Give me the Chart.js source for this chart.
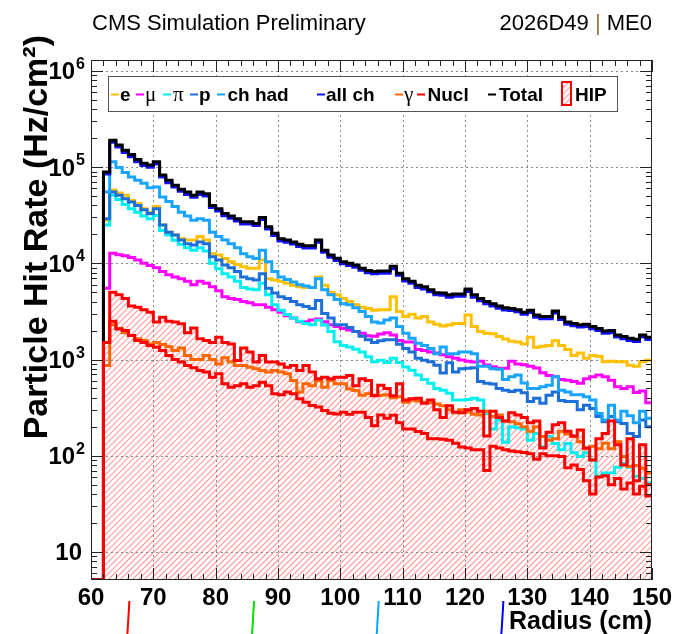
<!DOCTYPE html>
<html>
<head>
<meta charset="utf-8">
<script src="https://cdn.jsdelivr.net/npm/chart.js@4.4.0/dist/chart.umd.min.js"></script>
<style>
  html, body { margin: 0; padding: 0; background: #fff; }
  #wrap { width: 675px; height: 634px; }
</style>
</head>
<body>
<div id="wrap"><canvas id="hitRate" width="675" height="634"></canvas></div>
<script>
// bin left edges (cm), 1 cm bins
const binEdges = [60, 61, 62, 63, 64, 65, 66, 67, 68, 69, 70, 71, 72, 73, 74, 75, 76, 77, 78, 79,
  80, 81, 82, 83, 84, 85, 86, 87, 88, 89, 90, 91, 92, 93, 94, 95, 96, 97, 98, 99,
  100, 101, 102, 103, 104, 105, 106, 107, 108, 109, 110, 111, 112, 113, 114, 115, 116, 117, 118, 119,
  120, 121, 122, 123, 124, 125, 126, 127, 128, 129, 130, 131, 132, 133, 134, 135, 136, 137, 138, 139,
  140, 141, 142, 143, 144, 145, 146, 147, 148, 149];

const xTicks = [60, 70, 80, 90, 100, 110, 120, 130, 140, 150];
const yTicks = [10, 100, 1000, 10000, 100000, 1000000];
const yTickExp = ['', '2', '3', '4', '5', '6'];
const etaMarks = [66, 86, 106, 126];
const etaColors = ['#ff0000', '#00e000', '#00a8ff', '#0000ff'];

// hit rates (Hz/cm2) per bin
const rateE = [0, 0, 28000, 58000, 54000, 51000, 45000, 42000, 37000, 34000, 39000, 25000,
  21000, 19700, 18000, 17500, 17500, 19000, 17500, 12600, 12200, 11200,
  10400, 9700, 9200, 8900, 8900, 10800, 6900, 6700, 6500, 6200,
  5900, 5700, 5600, 5600, 7200, 5900, 5000, 4700, 4300, 4000,
  3700, 3500, 3400, 3250, 3300, 3300, 4500, 3150, 2800, 2950,
  2700, 2800, 2450, 2330, 2230, 2280, 2370, 2370, 2900, 2200,
  1950, 1870, 1850, 1730, 1630, 1550, 1520, 1450, 1700, 1340,
  1370, 1400, 1570, 1400, 1270, 1100, 1170, 1030, 1100, 1080,
  950, 960, 950, 950, 870, 850, 950, 980];
const rateMu = [0, 0, 5500, 12700, 12300, 12000, 11500, 10800, 10000, 9500, 9000, 8200,
  7600, 7200, 6900, 6500, 6000, 6500, 6200, 5700, 5200, 4500,
  4300, 4200, 4000, 3900, 3700, 3700, 3500, 3300, 3100, 2850,
  2700, 2470, 2470, 2570, 2630, 2470, 2300, 2200, 2100, 2030,
  1960, 1870, 1770, 1740, 1840, 1900, 1800, 1580, 1520, 1520,
  1270, 1240, 1200, 1170, 1120, 1070, 1030, 990, 960, 940,
  960, 875, 840, 810, 810, 960, 900, 880, 850, 815,
  730, 680, 660, 620, 610, 590, 565, 630, 660, 690,
  660, 610, 520, 500, 520, 455, 470, 355];
const ratePi = [0, 0, 25000, 51000, 46000, 41000, 37000, 34000, 31000, 29000, 31500, 22000,
  19700, 17400, 15800, 14500, 13700, 14500, 13400, 10000, 8800, 7800,
  7200, 6500, 5600, 5400, 5300, 6200, 4700, 3700, 3250, 2930,
  2700, 2500, 2370, 2300, 2560, 2280, 1950, 1530, 1400, 1350,
  1280, 1200, 1070, 950, 980, 930, 1030, 930, 835, 775,
  690, 620, 565, 500, 480, 445, 380, 380, 385, 395,
  380, 275, 190, 235, 138, 200, 195, 190, 145, 170,
  124, 158, 134, 115, 134, 107, 98, 107, 91, 61,
  66, 66, 76, 83, 76, 61, 58, 52];
const rateP = [0, 0, 29000, 55000, 51000, 47000, 43500, 40000, 36000, 33000, 37000, 25000,
  21000, 19700, 17500, 16000, 15500, 16700, 16000, 11700, 10800, 9600,
  9000, 8200, 7200, 6900, 6700, 7800, 5500, 4900, 4500, 4300,
  4000, 3700, 3550, 3400, 4100, 3000, 2700, 2300, 2300, 2150,
  1960, 1740, 1600, 1500, 1570, 1600, 1600, 1440, 1300, 1200,
  1030, 985, 950, 870, 725, 925, 740, 800, 810, 820,
  590, 565, 555, 500, 480, 465, 480, 450, 365, 395,
  350, 425, 460, 375, 365, 365, 300, 335, 310, 255,
  225, 255, 225, 216, 170, 158, 235, 200];
const rateChHad = [0, 0, 55000, 114000, 99000, 88000, 79000, 73000, 68000, 61000, 62000, 49000,
  44000, 39000, 34000, 31000, 28000, 29000, 28000, 21000, 19000, 17500,
  16000, 14500, 12600, 11700, 11200, 13700, 10400, 8200, 7200, 6800,
  6400, 6000, 5800, 5600, 6900, 5300, 4700, 4200, 3800, 3700,
  3450, 3150, 2800, 2450, 2400, 2570, 2700, 2200, 1870, 1660,
  1480, 1400, 1300, 1150, 1350, 1150, 1150, 1200, 1200, 1150,
  850, 850, 800, 790, 620, 660, 690, 570, 500, 500,
  520, 540, 660, 480, 460, 430, 430, 410, 380, 275,
  235, 335, 235, 290, 260, 220, 290, 245];
const rateAllCh = [0, 0, 85000, 181000, 162000, 142000, 128000, 114000, 104000, 99500, 108000, 79000,
  69000, 62000, 56000, 52000, 48500, 52000, 50000, 38000, 35000, 31300,
  29400, 27500, 25600, 25600, 24700, 28500, 22800, 19500, 17100, 16600,
  15900, 15000, 14400, 14400, 16600, 13000, 11600, 10700, 9900, 9500,
  9100, 8450, 8000, 7800, 7900, 7900, 8800, 7500, 6550, 6200,
  5600, 5400, 5050, 4700, 4650, 4450, 4550, 4550, 5100, 4450,
  4080, 3800, 3600, 3420, 3280, 3230, 3130, 2950, 3080, 2750,
  2660, 2660, 3040, 2600, 2330, 2250, 2180, 2210, 2090, 2000,
  1880, 1900, 1710, 1640, 1580, 1540, 1710, 1610];
const rateGamma = [0, 0, 865, 2300, 2100, 1900, 1780, 1640, 1580, 1450, 1500, 1430,
  1360, 1240, 1320, 1100, 1000, 1000, 1100, 1000, 900, 1040,
  940, 865, 865, 830, 800, 770, 740, 770, 740, 710,
  605, 460, 560, 535, 605, 515, 605, 560, 560, 495,
  475, 425, 440, 425, 425, 430, 400, 410, 360, 380,
  370, 360, 355, 345, 330, 300, 280, 300, 285, 270,
  265, 290, 255, 265, 230, 225, 215, 200, 180, 200,
  158, 145, 150, 180, 168, 158, 140, 118, 125, 118,
  135, 118, 140, 98, 77, 79, 74, 66];
const rateNucl = [0, 0, 1500, 2500, 2080, 2000, 1780, 1580, 1500, 1400, 1340, 1240,
  1100, 1000, 940, 865, 820, 770, 740, 655, 710, 560,
  515, 535, 560, 515, 535, 580, 535, 440, 430, 460,
  440, 390, 360, 333, 320, 295, 277, 272, 283, 270,
  283, 283, 250, 205, 265, 245, 263, 220, 190, 190,
  178, 170, 150, 150, 148, 145, 135, 123, 120, 115,
  115, 70, 125, 120, 115, 112, 110, 108, 105, 92,
  105, 100, 100, 98, 75, 80, 72, 55, 40, 60,
  62, 50, 58, 45, 52, 40, 48, 38];
const rateTotal = [0, 0, 89000, 190000, 170000, 150000, 135000, 120000, 110000, 105000, 114000, 83000,
  73000, 65000, 59000, 55000, 51000, 55000, 53000, 40000, 37000, 33000,
  31000, 29000, 27000, 27000, 26000, 30000, 24000, 20500, 18000, 17500,
  16700, 15800, 15200, 15200, 17500, 13700, 12200, 11300, 10400, 10000,
  9600, 8900, 8400, 8200, 8300, 8300, 9300, 7900, 6900, 6500,
  5900, 5700, 5300, 4950, 4900, 4700, 4800, 4800, 5400, 4700,
  4300, 4000, 3800, 3600, 3450, 3400, 3300, 3100, 3250, 2900,
  2800, 2800, 3200, 2750, 2450, 2370, 2300, 2330, 2200, 2100,
  1980, 2000, 1800, 1730, 1660, 1620, 1800, 1700];
const rateHIP = [0, 0, 1500, 5000, 4700, 4300, 3600, 3500, 3300, 3100, 2450, 2750,
  2500, 2450, 2350, 1900, 2130, 1640, 1580, 1500, 1700, 1500,
  1450, 975, 1320, 1200, 940, 1100, 940, 940, 900, 830,
  865, 770, 865, 740, 630, 655, 630, 655, 655, 680,
  535, 630, 605, 420, 540, 500, 420, 560, 380, 390,
  395, 350, 380, 300, 250, 330, 285, 280, 300, 310,
  290, 160, 290, 250, 230, 280, 265, 250, 220, 230,
  120, 175, 210, 220, 180, 160, 185, 120, 90, 150,
  170, 230, 130, 80, 150, 55, 130, 50];

const seriesNames = ['e', 'μ', 'π', 'p', 'ch had', 'all ch', 'γ', 'Nucl', 'Total', 'HIP'];
const seriesColors = ['#ffc000', '#ff00ff', '#00f0f0', '#1c6fd8', '#18a4ff', '#1010ff', '#ff6600', '#ff0000', '#000000', '#ff0000'];
const seriesValues = [rateE, rateMu, ratePi, rateP, rateChHad, rateAllCh, rateGamma, rateNucl, rateTotal, rateHIP];
const HIP_INDEX = 9;

const X_MIN = 60, X_MAX = 150;
const Y_MIN = 5.1, Y_MAX = 1.3e6;
const FONT = '"Liberation Sans", Arial, Helvetica, sans-serif';
const SERIF = '"Liberation Serif", "DejaVu Serif", serif';
const HATCH_COLOR = 'rgba(255,40,40,0.45)';

function histPoints(vals) {
  const pts = binEdges.map((x, i) => ({ x: x, y: vals[i] > 0 ? vals[i] : Y_MIN }));
  pts.push({ x: X_MAX, y: pts[pts.length - 1].y });
  return pts;
}

// ROOT style 3004 hatch inside the current clip
function hatchRect(ctx, left, top, right, bottom) {
  const h = bottom - top;
  ctx.save();
  ctx.strokeStyle = HATCH_COLOR;
  ctx.lineWidth = 1.2;
  ctx.beginPath();
  for (let k = Math.floor((left - h) / 6) * 6; k <= right; k += 6) {
    ctx.moveTo(k, bottom);
    ctx.lineTo(k + h, top);
  }
  ctx.stroke();
  ctx.restore();
}

const datasets = seriesNames.map((name, i) => ({
  label: name,
  data: histPoints(seriesValues[i]),
  borderColor: seriesColors[i],
  borderWidth: 3,
  stepped: true,
  pointRadius: 0,
  fill: false,
  order: seriesNames.length - i
}));

const rootStyle = {
  id: 'rootStyle',
  beforeDatasetsDraw(chart) {
    const { ctx, chartArea: a, scales: { x, y } } = chart;
    // hatched area under HIP
    const pts = chart.getDatasetMeta(HIP_INDEX).data;
    ctx.save();
    ctx.beginPath();
    ctx.rect(a.left, a.top, a.right - a.left, a.bottom - a.top);
    ctx.clip();
    ctx.beginPath();
    ctx.moveTo(pts[0].x, a.bottom);
    pts.forEach((p, i) => {
      if (i > 0) ctx.lineTo(p.x, pts[i - 1].y);
      ctx.lineTo(p.x, p.y);
    });
    ctx.lineTo(pts[pts.length - 1].x, a.bottom);
    ctx.closePath();
    ctx.clip();
    hatchRect(ctx, a.left, a.top, a.right, a.bottom);
    ctx.restore();

    // dotted grid
    ctx.save();
    ctx.strokeStyle = '#8a8a8a';
    ctx.lineWidth = 1;
    ctx.setLineDash([2, 3]);
    ctx.beginPath();
    xTicks.forEach(v => {
      if (v <= X_MIN || v >= X_MAX) return;
      const px = Math.round(x.getPixelForValue(v)) + 0.5;
      ctx.moveTo(px, a.top); ctx.lineTo(px, a.bottom);
    });
    yTicks.forEach(v => {
      const py = Math.round(y.getPixelForValue(v)) + 0.5;
      ctx.moveTo(a.left, py); ctx.lineTo(a.right, py);
    });
    ctx.stroke();
    ctx.restore();
  },
  afterDatasetsDraw(chart) {
    const { ctx, chartArea: a, scales: { x, y } } = chart;
    ctx.save();
    ctx.strokeStyle = '#222';
    ctx.lineWidth = 1;
    ctx.strokeRect(a.left + 0.5, a.top + 0.5, a.right - a.left - 1, a.bottom - a.top - 1);
    ctx.beginPath();
    // x ticks, bottom and top, pointing inward
    for (let v = X_MIN; v <= X_MAX; v += 2) {
      const len = v % 10 === 0 ? 12 : 6;
      const px = Math.round(x.getPixelForValue(v)) + 0.5;
      ctx.moveTo(px, a.bottom); ctx.lineTo(px, a.bottom - len);
      ctx.moveTo(px, a.top); ctx.lineTo(px, a.top + len);
    }
    // y log ticks, left and right
    for (let d = 1; d <= 1e6; d *= 10) {
      for (let m = 1; m <= 9; m++) {
        const v = m * d;
        if (v < Y_MIN || v > Y_MAX) continue;
        const len = m === 1 ? 12 : 6;
        const py = Math.round(y.getPixelForValue(v)) + 0.5;
        ctx.moveTo(a.left, py); ctx.lineTo(a.left + len, py);
        ctx.moveTo(a.right, py); ctx.lineTo(a.right - len, py);
      }
    }
    ctx.stroke();
    ctx.restore();
  },
  afterDraw(chart) {
    const { ctx, chartArea: a, scales: { x, y } } = chart;
    ctx.save();
    ctx.fillStyle = '#000';

    // header
    ctx.font = '22px ' + FONT;
    ctx.textAlign = 'left';
    ctx.textBaseline = 'alphabetic';
    ctx.fillText('CMS Simulation Preliminary', 92, 30);
    const parts = [['2026D49 ', '#000'], ['|', '#a07040'], [' ME0', '#000']];
    const wTot = parts.reduce((s, p) => s + ctx.measureText(p[0]).width, 0);
    let hx = a.right - wTot;
    parts.forEach(p => { ctx.fillStyle = p[1]; ctx.fillText(p[0], hx, 30); hx += ctx.measureText(p[0]).width; });
    ctx.fillStyle = '#000';

    // x tick labels
    ctx.font = 'bold 24px ' + FONT;
    ctx.textAlign = 'center';
    xTicks.forEach(v => ctx.fillText(String(v), x.getPixelForValue(v), 605));

    // y tick labels with exponents
    yTicks.forEach((v, i) => {
      const py = y.getPixelForValue(v);
      ctx.font = 'bold 16px ' + FONT;
      const ew = yTickExp[i] ? ctx.measureText(yTickExp[i]).width : 0;
      const right = yTickExp[i] ? 85 : 82;
      if (yTickExp[i]) {
        ctx.textAlign = 'right';
        ctx.fillText(yTickExp[i], right, py - 2);
      }
      ctx.font = 'bold 24px ' + FONT;
      ctx.textAlign = 'right';
      ctx.fillText('10', right - ew - (ew ? 1 : 0), py + 8.5);
    });

    // axis titles
    ctx.font = 'bold 25px ' + FONT;
    ctx.textAlign = 'right';
    ctx.fillText('Radius (cm)', a.right, 629);
    ctx.save();
    ctx.translate(47, 35);
    ctx.rotate(-Math.PI / 2);
    ctx.font = 'bold 34px ' + FONT;
    ctx.textAlign = 'right';
    ctx.fillText('Particle Hit Rate (Hz/cm²)', 0, 0);
    ctx.restore();

    // eta boundary marks below the axis
    ctx.lineWidth = 2;
    etaMarks.forEach((v, i) => {
      const px = x.getPixelForValue(v);
      ctx.strokeStyle = etaColors[i];
      ctx.beginPath();
      ctx.moveTo(px + 1, 601); ctx.lineTo(px - 1, 634);
      ctx.stroke();
    });

    // legend
    ctx.fillStyle = '#fff';
    ctx.fillRect(108, 76, 510, 36);
    ctx.strokeStyle = '#555';
    ctx.lineWidth = 1;
    ctx.strokeRect(108.5, 76.5, 509, 35);
    const keys = [[111, 120, false], [136, 145, true], [163, 173, true], [190, 199, false], [217, 227.5, false],
      [317, 326, false], [395, 404, true], [417, 427.5, false], [488, 499, false]];
    keys.forEach((k, i) => {
      ctx.fillStyle = seriesColors[i];
      ctx.fillRect(k[0], 93.5, 8, 2);
      ctx.fillStyle = '#000';
      ctx.font = k[2] ? '21px ' + SERIF : 'bold 19px ' + FONT;
      ctx.textAlign = 'left';
      ctx.fillText(seriesNames[i], k[1], 101);
    });
    ctx.save();
    ctx.beginPath();
    ctx.rect(562, 82, 9, 23);
    ctx.clip();
    hatchRect(ctx, 562, 82, 571, 105);
    ctx.restore();
    ctx.strokeStyle = seriesColors[HIP_INDEX];
    ctx.lineWidth = 2;
    ctx.strokeRect(562, 82, 9, 23);
    ctx.fillStyle = '#000';
    ctx.font = 'bold 19px ' + FONT;
    ctx.textAlign = 'left';
    ctx.fillText(seriesNames[HIP_INDEX], 575, 101);
    ctx.restore();
  }
};

new Chart(document.getElementById('hitRate'), {
  type: 'line',
  data: { datasets: datasets },
  options: {
    responsive: false,
    animation: false,
    events: [],
    layout: { padding: { left: 91, right: 23, top: 60, bottom: 54 } },
    scales: {
      x: { type: 'linear', min: X_MIN, max: X_MAX, display: false },
      y: { type: 'logarithmic', min: Y_MIN, max: Y_MAX, display: false }
    },
    elements: {
      point: { radius: 0 },
      line: { tension: 0, borderJoinStyle: 'miter', borderCapStyle: 'butt' }
    },
    plugins: {
      legend: { display: false },
      tooltip: { enabled: false }
    }
  },
  plugins: [rootStyle]
});
</script>
</body>
</html>
